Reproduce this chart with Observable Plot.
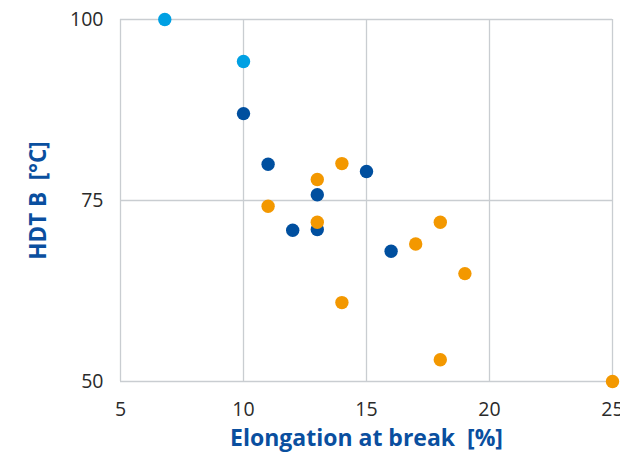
<!DOCTYPE html>
<html>
<head>
<meta charset="utf-8">
<script src="https://cdn.jsdelivr.net/npm/d3@7"></script>
<script src="https://cdn.jsdelivr.net/npm/@observablehq/plot@0.6"></script>
<style>
  html, body { margin: 0; padding: 0; background: #fff; }
  #chart svg { display: block; }
</style>
</head>
<body>
<div id="chart"></div>
<script>
const xTicks = [5, 10, 15, 20, 25];
const yTicks = [50, 75, 100];
const xLabel = "Elongation at break\u00a0\u00a0[%]";
const yLabel = "HDT B\u00a0\u00a0[°C]";

const lightX = [6.8, 10];
const lightY = [100, 94.2];
const darkX = [10, 11, 12, 13, 13, 15, 16];
const darkY = [87, 80, 70.9, 75.8, 71, 79, 68];
const orangeX = [11, 13, 13, 14, 14, 17, 18, 18, 19, 25];
const orangeY = [74.2, 77.9, 72, 80.1, 60.9, 69, 72, 53, 64.9, 50];

const seriesColors = {light: "#00a0e3", dark: "#004f9f", orange: "#f39800"};

const rows = [];
lightX.forEach((x, i) => rows.push({x, y: lightY[i], s: "light"}));
darkX.forEach((x, i) => rows.push({x, y: darkY[i], s: "dark"}));
orangeX.forEach((x, i) => rows.push({x, y: orangeY[i], s: "orange"}));

const gridColor = "#c9cdd1";
const labelColor = "#0a4f9f";

const chart = Plot.plot({
  width: 620,
  height: 456,
  marginLeft: 120,
  marginRight: 8,
  marginTop: 19,
  marginBottom: 75,
  style: {fontFamily: "'Open Sans', sans-serif", background: "#fff"},
  x: {domain: [5, 25]},
  y: {domain: [50, 100]},
  marks: [
    Plot.ruleX(xTicks, {stroke: gridColor, strokeWidth: 1.3}),
    Plot.ruleY(yTicks, {stroke: gridColor, strokeWidth: 1.3}),
    Plot.axisX({ticks: xTicks, tickSize: 0, tickPadding: 21, fontSize: 19.5, fill: "#2a2a2a", label: null}),
    Plot.axisY({ticks: yTicks, tickSize: 0, tickPadding: 17, fontSize: 19.5, fill: "#2a2a2a", label: null}),
    Plot.axisY({ticks: [], label: yLabel, labelAnchor: "center", labelArrow: "none", labelOffset: 90, fontSize: 22.5, fontWeight: "bold", fill: labelColor}),
    Plot.dot(rows, {x: "x", y: "y", r: 6.7, fill: d => seriesColors[d.s], stroke: null}),
    Plot.text([xLabel], {frameAnchor: "bottom", dy: 64, fontSize: 23, fontWeight: "bold", fill: labelColor})
  ]
});
document.getElementById("chart").appendChild(chart);
</script>
</body>
</html>
